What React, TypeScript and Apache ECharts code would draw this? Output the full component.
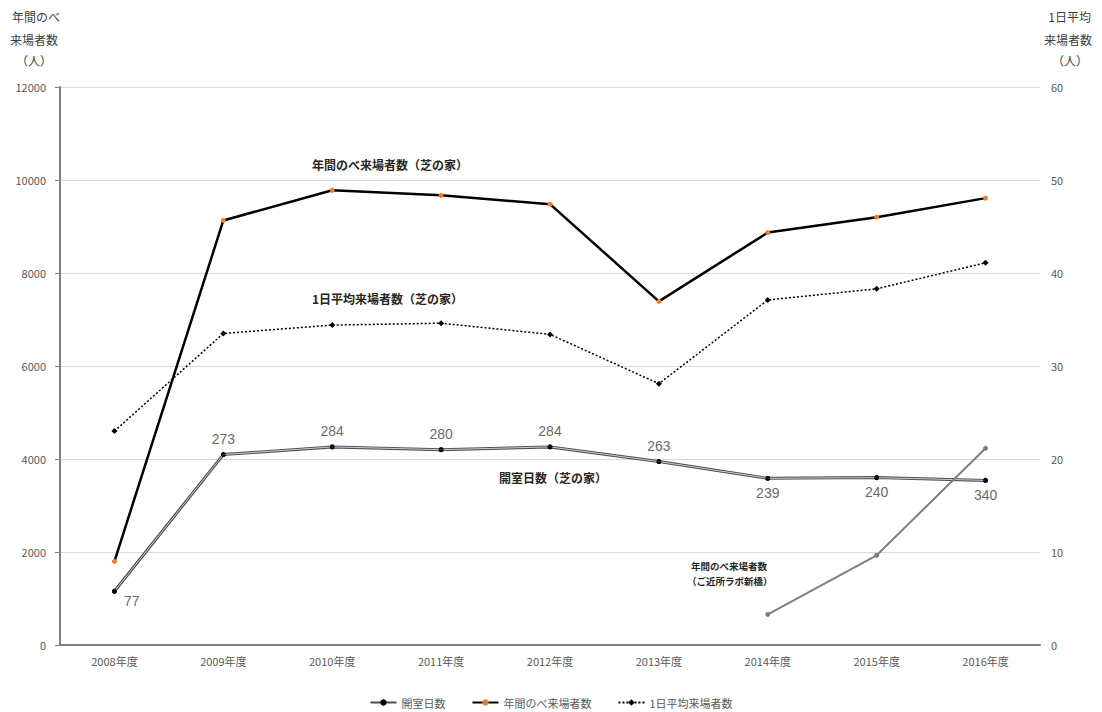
import React, { useEffect, useRef } from "react";
import * as echarts from "echarts";

const years = ["2008年度", "2009年度", "2010年度", "2011年度", "2012年度", "2013年度", "2014年度", "2015年度", "2016年度"];
const openDays = [77, 273, 284, 280, 284, 263, 239, 240, 236];
const openDayLabels = ["77", "273", "284", "280", "284", "263", "239", "240", "340"];
const openDayLabelPos = ["br", "top", "top", "top", "top", "top", "bottom", "bottom", "bottom"];
const annualVisitors = [1800, 9130, 9780, 9670, 9480, 7390, 8870, 9200, 9610];
const dailyAverage = [23.0, 33.5, 34.4, 34.6, 33.4, 28.1, 37.1, 38.3, 41.1];
const shinbashiVisitors = [null, null, null, null, null, null, 660, 1930, 4230];
const leftTicks = { min: 0, max: 12000, interval: 2000 };
const rightTicks = { min: 0, max: 60, interval: 10 };

const JP = "'Noto Sans CJK JP', 'Noto Sans', sans-serif";

export default function App() {
  const ref = useRef<HTMLDivElement>(null);
  useEffect(() => {
    document.body.style.margin = "0";
    const chart = echarts.init(ref.current!, undefined, { renderer: "svg" });
    const labelColor = "#595959";
    const option: any = {
      animation: false,
      textStyle: { fontFamily: JP },
      grid: { left: 60, right: 62, top: 87, bottom: 67, containLabel: false },
      legend: {
        bottom: -1,
        left: "center",
        itemWidth: 26,
        itemHeight: 8,
        itemGap: 26,
        textStyle: { color: labelColor, fontSize: 11, fontFamily: JP },
        data: ["開室日数", "年間のべ来場者数", "1日平均来場者数"],
      },
      xAxis: {
        type: "category",
        data: years,
        boundaryGap: true,
        axisLine: { lineStyle: { color: "#7f7f7f", width: 2 } },
        axisTick: { show: false },
        axisLabel: { color: labelColor, fontSize: 11, margin: 10, fontFamily: JP },
      },
      yAxis: [
        {
          type: "value",
          min: leftTicks.min,
          max: leftTicks.max,
          interval: leftTicks.interval,
          position: "left",
          axisLine: { show: true, lineStyle: { color: "#7f7f7f", width: 2 } },
          axisTick: { show: true, length: 5, lineStyle: { color: "#7f7f7f" } },
          axisLabel: { color: labelColor, fontSize: 11, margin: 14, formatter: (v: number) => String(v) },
          splitLine: { lineStyle: { color: "#d9d9d9", width: 1 } },
        },
        {
          type: "value",
          min: rightTicks.min,
          max: rightTicks.max,
          interval: rightTicks.interval,
          position: "right",
          axisLine: { show: false },
          axisTick: { show: false },
          axisLabel: { color: labelColor, fontSize: 11, margin: 11, formatter: (v: number) => String(v) },
          splitLine: { show: false },
        },
        {
          type: "value",
          min: 0,
          max: 800,
          show: false,
          splitLine: { show: false },
        },
      ],
      series: [
        {
          name: "開室日数",
          type: "line",
          yAxisIndex: 2,
          data: openDays,
          symbol: "circle",
          symbolSize: 5,
          itemStyle: { color: "#000" },
          lineStyle: { color: "#4d4d4d", width: 3 },
          z: 2,
        },
        {
          name: "開室日数inner",
          type: "line",
          yAxisIndex: 2,
          data: openDays,
          symbol: "none",
          lineStyle: { color: "#cfcfcf", width: 1 },
          silent: true,
          z: 3,
        },
        {
          name: "開室日数pts",
          type: "scatter",
          yAxisIndex: 2,
          symbol: "circle",
          symbolSize: 5,
          itemStyle: { color: "#000" },
          z: 5,
          data: openDays.map((v, i) => {
            const p = openDayLabelPos[i];
            let label: any = {
              show: true,
              formatter: openDayLabels[i],
              fontSize: 14,
              color: "#404040",
              fontFamily: "'Liberation Sans', Arial, sans-serif",
            };
            if (p === "br") label = { ...label, position: "right", offset: [2, 10] };
            else if (p === "top") label = { ...label, position: "top", distance: 6 };
            else label = { ...label, position: "bottom", distance: 5 };
            return { value: v, label };
          }),
        },
        {
          name: "年間のべ来場者数",
          type: "line",
          yAxisIndex: 0,
          data: annualVisitors,
          symbol: "circle",
          symbolSize: 5,
          itemStyle: { color: "#ed7d31" },
          lineStyle: { color: "#000", width: 2.5 },
          z: 4,
        },
        {
          name: "1日平均来場者数",
          type: "line",
          yAxisIndex: 1,
          data: dailyAverage,
          symbol: "diamond",
          symbolSize: 6,
          itemStyle: { color: "#000" },
          lineStyle: { color: "#000", width: 1.5, type: [2, 2] },
          z: 4,
        },
        {
          name: "年間のべ来場者数（ご近所ラボ新橋）",
          type: "line",
          yAxisIndex: 0,
          data: shinbashiVisitors,
          symbol: "circle",
          symbolSize: 5,
          itemStyle: { color: "#7f7f7f" },
          lineStyle: { color: "#7f7f7f", width: 2 },
          z: 4,
        },
      ],
      graphic: [
        { type: "text", left: 12, top: 10, style: { text: "年間のべ", fontSize: 12, fill: "#404040", fontFamily: JP } },
        { type: "text", left: 10, top: 33, style: { text: "来場者数", fontSize: 12, fill: "#404040", fontFamily: JP } },
        { type: "text", left: 16, top: 54, style: { text: "（人）", fontSize: 12, fill: "#404040", fontFamily: JP } },
        { type: "text", right: 11, top: 10, style: { text: "1日平均", fontSize: 12, fill: "#404040", fontFamily: JP } },
        { type: "text", right: 10, top: 33, style: { text: "来場者数", fontSize: 12, fill: "#404040", fontFamily: JP } },
        { type: "text", right: 14, top: 54, style: { text: "（人）", fontSize: 12, fill: "#404040", fontFamily: JP } },
        { type: "text", left: 312, top: 158, style: { text: "年間のべ来場者数（芝の家）", fontSize: 12, fontWeight: "bold", fill: "#262626", fontFamily: JP } },
        { type: "text", left: 312, top: 292, style: { text: "1日平均来場者数（芝の家）", fontSize: 12, fontWeight: "bold", fill: "#262626", fontFamily: JP } },
        { type: "text", left: 499, top: 471, style: { text: "開室日数（芝の家）", fontSize: 12, fontWeight: "bold", fill: "#262626", fontFamily: JP } },
        { type: "text", left: 691, top: 561, style: { text: "年間のべ来場者数", fontSize: 9.5, fontWeight: "bold", fill: "#262626", fontFamily: JP } },
        { type: "text", left: 687, top: 576, style: { text: "（ご近所ラボ新橋）", fontSize: 9.5, fontWeight: "bold", fill: "#262626", fontFamily: JP } },
      ],
    };
    chart.setOption(option);
    return () => chart.dispose();
  }, []);
  return <div ref={ref} style={{ width: 1102, height: 712 }} />;
}
